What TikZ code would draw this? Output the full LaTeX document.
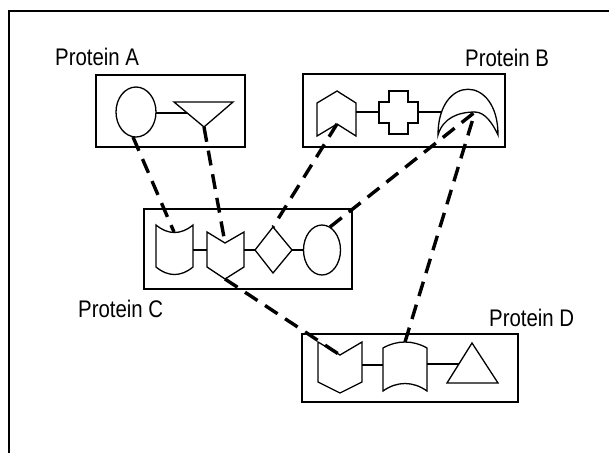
\documentclass[tikz,border=0pt]{standalone}
\usepackage{fontspec}
\usepackage{graphicx}
\setmainfont{Liberation Sans}
\newcommand{\protname}[1]{\scalebox{0.85}[1]{Protein #1}}
\begin{document}
\begin{tikzpicture}[x=1pt, y=-1pt,
    box/.style={line width=1.6pt},
    part/.style={line width=1.3pt},
    link/.style={line width=3.4pt, dash pattern=on 15pt off 9pt},
    tag/.style={anchor=base west, inner sep=0pt, font=\fontsize{24}{28}\selectfont}]

      \useasboundingbox (0,0) rectangle (609,453);
      \draw[box] (9,453) -- (9,11) -- (609,11);

      \node[tag] (labA) at (55,65) {\protname{A}};
      \node[tag] (labB) at (465,66) {\protname{B}};
      \node[tag] (labC) at (78,317) {\protname{C}};
      \node[tag] (labD) at (489,326) {\protname{D}};

      \draw[box] (96,75) rectangle (245,147);
      \draw[part] (136,112) ellipse [x radius=20, y radius=25];
      \draw[part] (156,113) -- (187,113);
      \draw[part] (174,102) -- (233,102) -- (204,127) -- cycle;

      \draw[box] (303,74) rectangle (505,147);
      \draw[part] (337,91) -- (317,103) -- (317,136) -- (337,124) -- (356,136) -- (356,103) -- cycle;
      \draw[part] (356,112) -- (379,112);
      \draw[part] (389,91) -- (408,91) -- (408,102) -- (418,102) -- (418,123) -- (408,123)
        -- (408,134) -- (389,134) -- (389,123) -- (379,123) -- (379,102) -- (389,102) -- cycle;
      \draw[part] (418,112) -- (442,112);
      \draw[part] (438,135) .. controls (438,74) and (498,74) .. (498,135)
        .. controls (493,124) and (485,112) .. (475,112)
        .. controls (458,112) and (443,118) .. (438,135) -- cycle;

      \draw[box] (144,209) rectangle (352,289);
      \draw[part] (156,225) .. controls (168,235) and (181,235) .. (193,225) -- (193,267)
        .. controls (181,277) and (168,277) .. (156,267) -- cycle;
      \draw[part] (193,250) -- (207,250);
      \draw[part] (207,232) -- (225,243) -- (244,232) -- (244,267) -- (225,279) -- (207,267) -- cycle;
      \draw[part] (244,250) -- (255,250);
      \draw[part] (255,250) -- (273,227) -- (292,250) -- (273,273) -- cycle;
      \draw[part] (292,250) -- (303,250);
      \draw[part] (322,250) ellipse [x radius=18.5, y radius=25];

      \draw[box] (302,334) rectangle (518,402);
      \draw[part] (318,342) -- (340,355) -- (362,342) -- (362,382) -- (340,393) -- (318,382) -- cycle;
      \draw[part] (362,365) -- (383,365);
      \draw[part] (383,348) .. controls (397,340) and (413,340) .. (427,348) -- (427,391)
        .. controls (413,381) and (397,381) .. (383,391) -- cycle;
      \draw[part] (427,364) -- (459,364);
      \draw[part] (472,343) -- (498,383) -- (447,383) -- cycle;

      \coordinate (aOval) at (133,137);
      \coordinate (aFunnel) at (204,127);
      \coordinate (bHouse) at (337,124);
      \coordinate (bMoon) at (475,112);
      \coordinate (cCan) at (174,232);
      \coordinate (cNotch) at (225,243);
      \coordinate (cTip) at (225,279);
      \coordinate (cDiamond) at (273,227);
      \coordinate (cOval) at (330,227);
      \coordinate (dNotch) at (340,355);
      \coordinate (dCan) at (405,342);

      \draw[link] (aOval) -- (cCan);
      \draw[link] (aFunnel) -- (cNotch);
      \draw[link] (bHouse) -- (cDiamond);
      \draw[link] (cOval) -- (bMoon);
      \draw[link] (dCan) -- (bMoon);
      \draw[link] (cTip) -- (dNotch);

    \end{tikzpicture}
\end{document}
